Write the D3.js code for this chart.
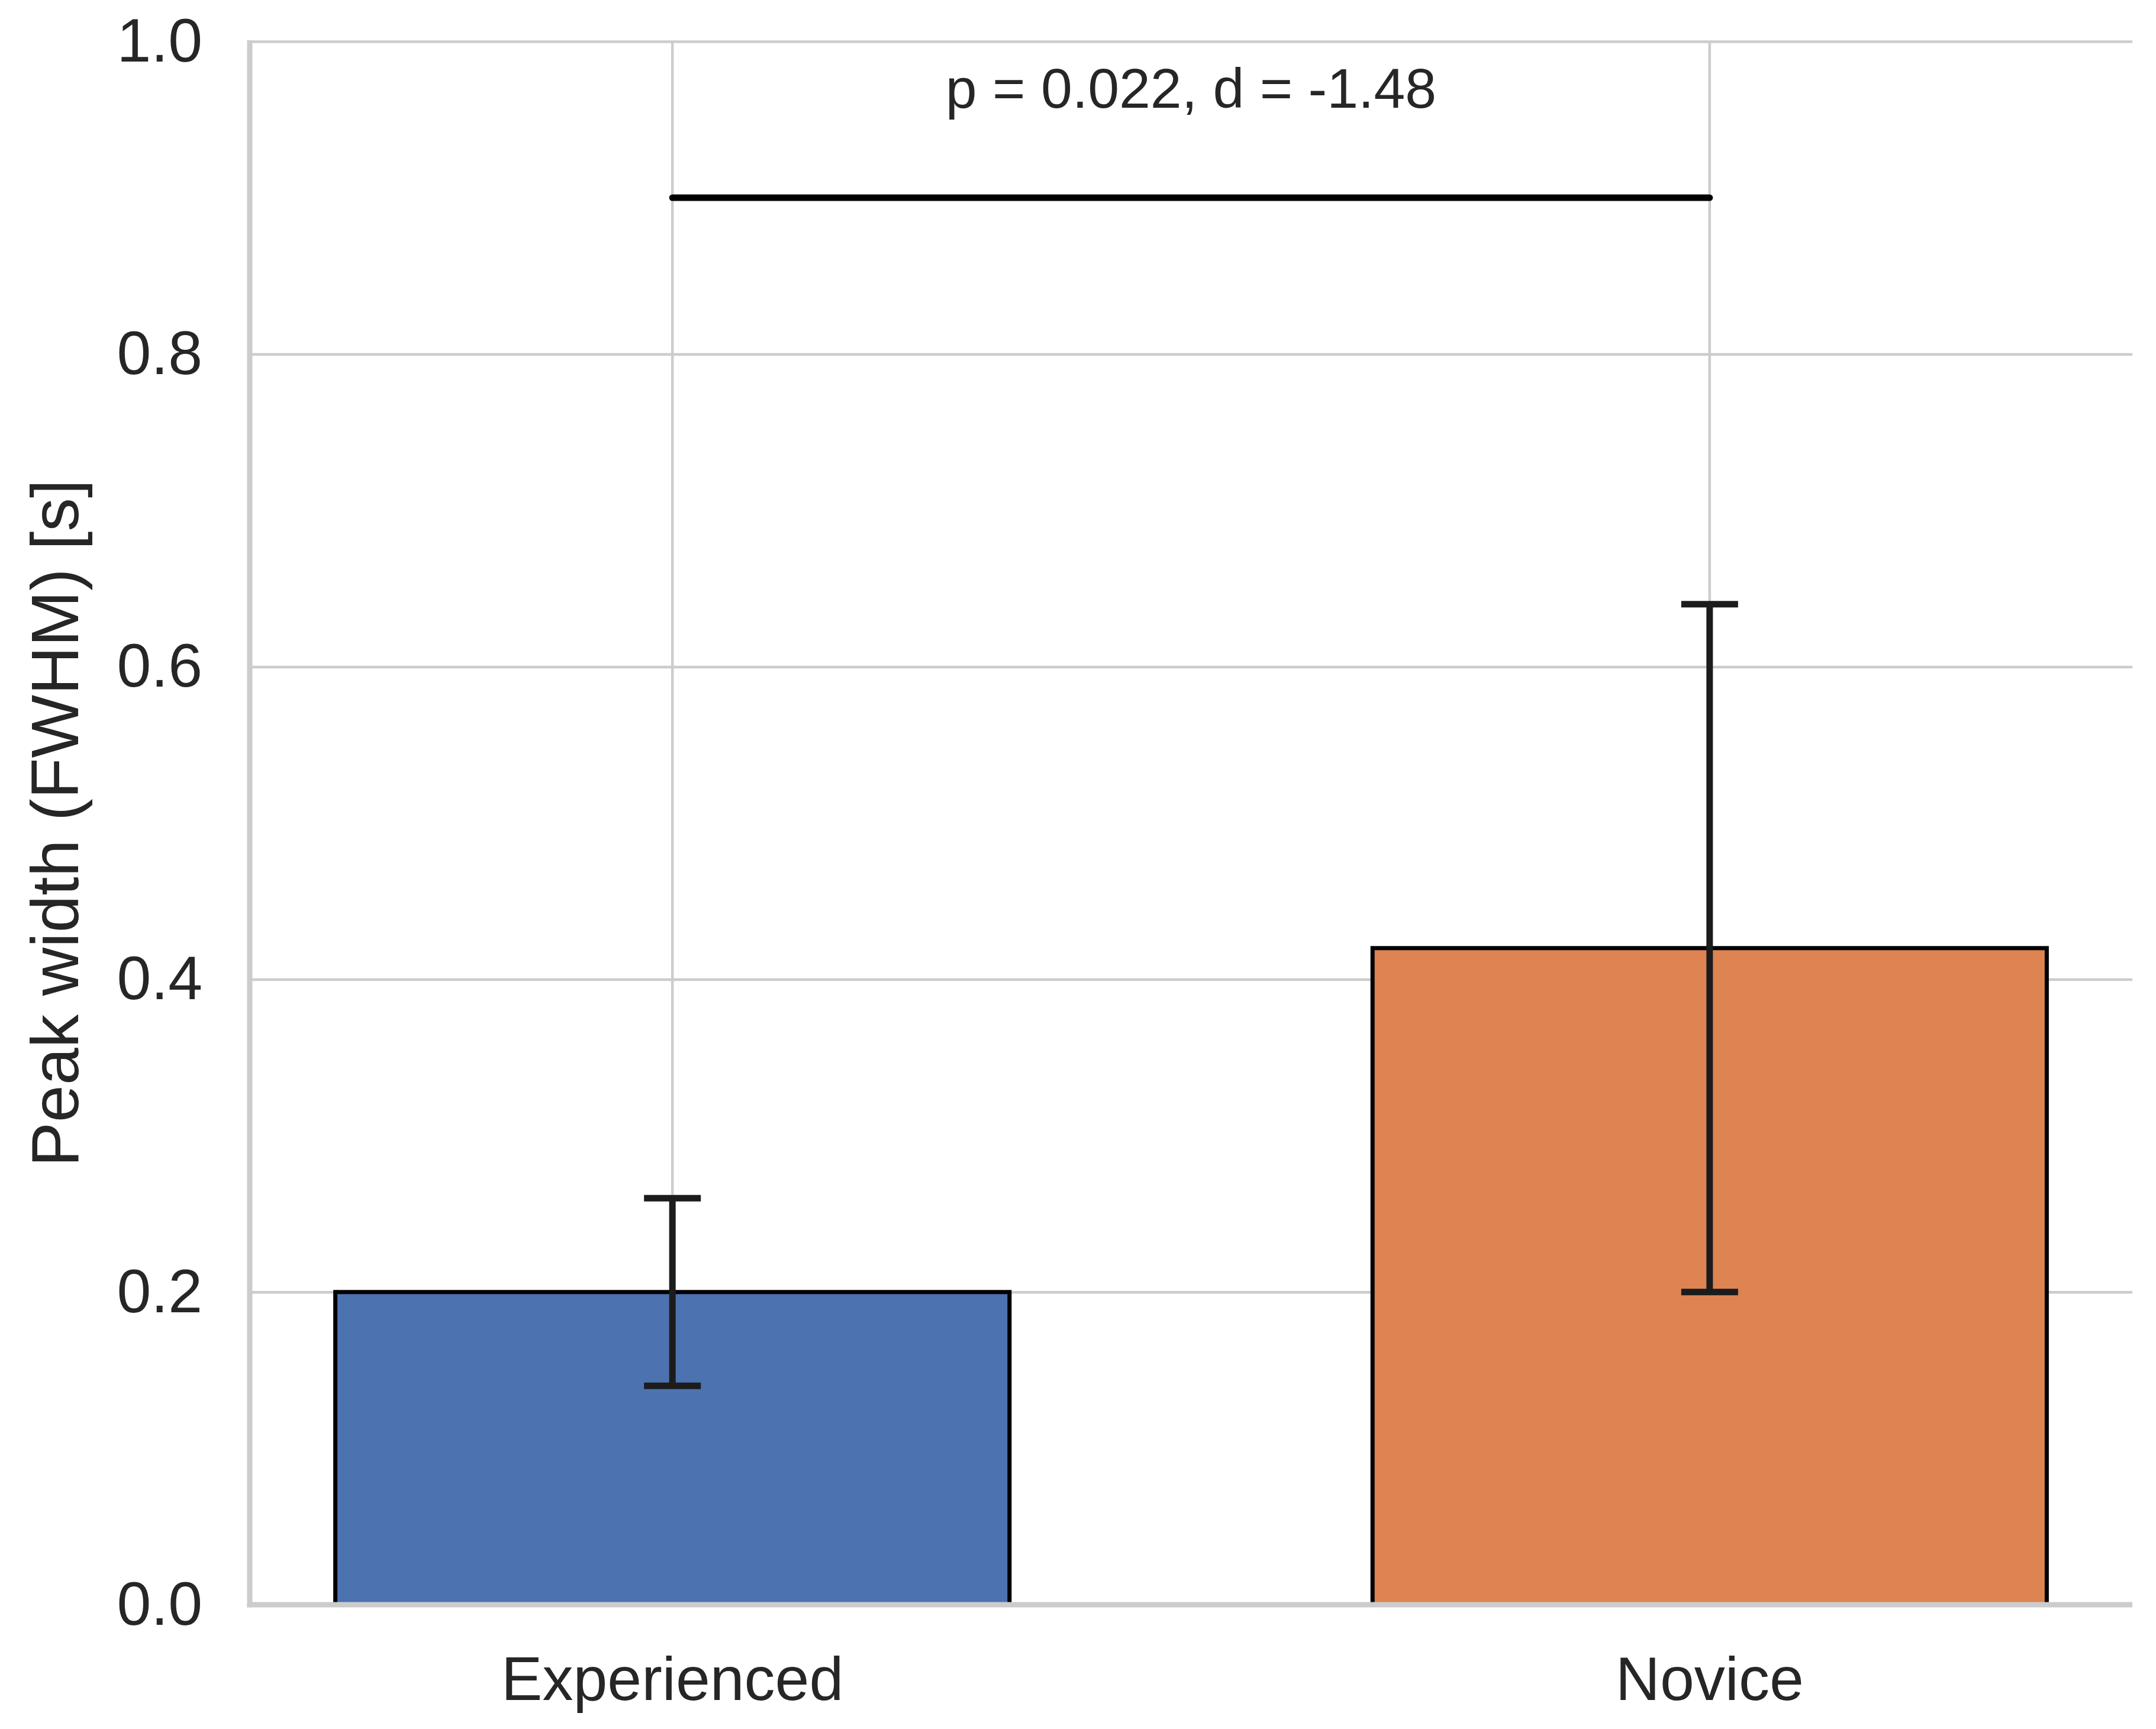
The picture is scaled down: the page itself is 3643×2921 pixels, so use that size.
<!DOCTYPE html>
<html>
<head>
<meta charset="utf-8">
<script src="https://cdn.jsdelivr.net/npm/d3@7"></script>
<style>
  body { margin: 0; background: #fff; }
  text { font-family: "Liberation Sans", Arial, sans-serif; fill: #262626; }
</style>
</head>
<body>
<div class="canvas"></div>
<script>
// data
const groups = ["Experienced", "Novice"]
const means = [0.20, 0.42]
const errLow = [0.14, 0.20]
const errHigh = [0.26, 0.64]
const barColors = ["#4c72b0", "#dd8452"]
const yTicks = [0.0, 0.2, 0.4, 0.6, 0.8, 1.0]
const sigLevel = 0.9
const sigTextLevel = 0.95
const sigText = "p = 0.022, d = -1.48"
const yLabel = "Peak width (FWHM) [s]"

const width = 3643
const height = 2921

const svg = d3.select(".canvas")
    .append("svg")
    .attr("width", width)
    .attr("height", height)

svg.append("rect")
    .attr("width", width)
    .attr("height", height)
    .attr("fill", "#fff")

const margin = { top: 70, right: 40, bottom: 210, left: 422 }
const graphWidth = width - margin.left - margin.right
const graphHeight = height - margin.top - margin.bottom

const graph = svg.append("g")
    .attr("transform", `translate(${margin.left}, ${margin.top})`)

// scales
const x = d3.scaleBand()
    .domain(groups)
    .range([0, graphWidth])
    .paddingInner(0.35)
    .paddingOuter(0.0825)

const y = d3.scaleLinear()
    .domain([0, 1])
    .range([graphHeight, 0])

const cx = d => x(d) + x.bandwidth() / 2

// axes, ticks doubling as grid lines
const yAxis = d3.axisLeft(y)
    .tickValues(yTicks)
    .tickSize(-graphWidth)
    .tickPadding(80)
    .tickFormat(d3.format(".1f"))

const xAxis = d3.axisBottom(x)
    .tickSize(-graphHeight)
    .tickPadding(87)

const yAxisGroup = graph.append("g").call(yAxis)
const xAxisGroup = graph.append("g")
    .attr("transform", `translate(0, ${graphHeight})`)
    .call(xAxis)

for (const g of [xAxisGroup, yAxisGroup]) {
    g.select(".domain").remove()
    g.selectAll(".tick line")
        .attr("stroke", "#cccccc")
        .attr("stroke-width", 4.5)
    g.selectAll(".tick text")
        .attr("fill", "#262626")
        .style("font-size", "104px")
        .style("font-family", "'Liberation Sans', Arial, sans-serif")
}

// bars
graph.selectAll("rect.bar")
    .data(groups)
    .enter()
    .append("rect")
    .attr("class", "bar")
    .attr("x", d => x(d))
    .attr("width", x.bandwidth())
    .attr("y", (d, i) => y(means[i]))
    .attr("height", (d, i) => graphHeight - y(means[i]))
    .attr("fill", (d, i) => barColors[i])
    .attr("stroke", "#000")
    .attr("stroke-width", 7)

// spines on top of bars
graph.append("line")
    .attr("x1", 0).attr("x2", 0)
    .attr("y1", -2).attr("y2", graphHeight + 4.5)
    .attr("stroke", "#cccccc").attr("stroke-width", 9)
graph.append("line")
    .attr("x1", -4.5).attr("x2", graphWidth)
    .attr("y1", graphHeight).attr("y2", graphHeight)
    .attr("stroke", "#cccccc").attr("stroke-width", 9)

// error bars
const capHalf = 48
const err = graph.selectAll("g.err")
    .data(groups)
    .enter()
    .append("g")
    .attr("class", "err")
    .attr("stroke", "#1c1c1c")
    .attr("stroke-width", 11)

err.append("line")
    .attr("x1", d => cx(d)).attr("x2", d => cx(d))
    .attr("y1", (d, i) => y(errLow[i]))
    .attr("y2", (d, i) => y(errHigh[i]))
err.append("line")
    .attr("x1", d => cx(d) - capHalf).attr("x2", d => cx(d) + capHalf)
    .attr("y1", (d, i) => y(errHigh[i]))
    .attr("y2", (d, i) => y(errHigh[i]))
err.append("line")
    .attr("x1", d => cx(d) - capHalf).attr("x2", d => cx(d) + capHalf)
    .attr("y1", (d, i) => y(errLow[i]))
    .attr("y2", (d, i) => y(errLow[i]))

// significance bar
graph.append("line")
    .attr("x1", cx(groups[0]))
    .attr("x2", cx(groups[1]))
    .attr("y1", y(sigLevel))
    .attr("y2", y(sigLevel))
    .attr("stroke", "#000")
    .attr("stroke-width", 11)
    .attr("stroke-linecap", "round")

graph.append("text")
    .attr("x", (cx(groups[0]) + cx(groups[1])) / 2)
    .attr("y", y(sigTextLevel))
    .attr("dy", "-0.21em")
    .attr("text-anchor", "middle")
    .style("font-size", "95px")
    .text(sigText)

// y label
svg.append("text")
    .attr("transform", `translate(132, ${margin.top + graphHeight / 2}) rotate(-90)`)
    .attr("text-anchor", "middle")
    .style("font-size", "113px")
    .text(yLabel)
</script>
</body>
</html>
